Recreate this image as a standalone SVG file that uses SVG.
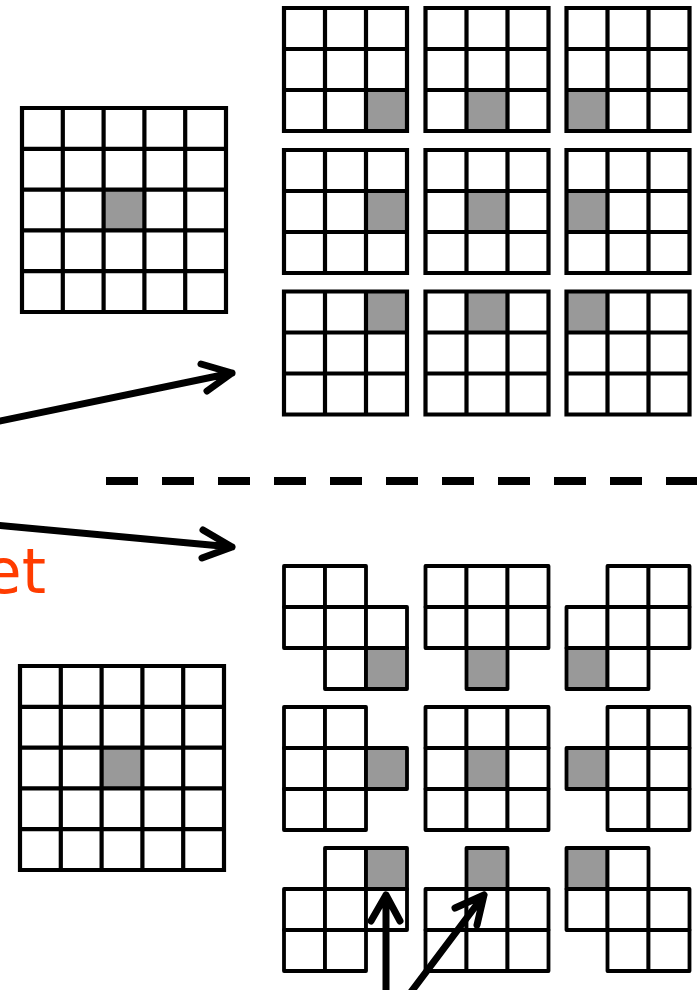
<svg xmlns="http://www.w3.org/2000/svg" xmlns:xlink="http://www.w3.org/1999/xlink" width="697" height="990" viewBox="0 0 697 990">
<style>
.gl{fill:none;stroke:#000;stroke-width:4.2}
.gray{fill:#999}
.w{fill:#fff;stroke:#000;stroke-width:3.8;stroke-linejoin:round}
.k{fill:#999;stroke:#000;stroke-width:3.8;stroke-linejoin:round}
.arr{fill:none;stroke:#000;stroke-width:7;stroke-linecap:round;stroke-linejoin:round}
.lbl{font-family:"DejaVu Sans",Verdana,sans-serif;font-size:62px;fill:#FF3C00}
</style>
<defs>
<path id="grid5" d="M0,0H204V204H0Z M40.8,0V204 M81.6,0V204 M122.4,0V204 M163.2,0V204 M0,40.8H204 M0,81.6H204 M0,122.4H204 M0,163.2H204"/>
<path id="grid3" d="M0,0H123V123H0Z M41,0V123 M82,0V123 M0,41H123 M0,82H123"/>
<rect id="cell" width="41" height="41"/>
</defs>
<rect width="697" height="990" fill="#fff"/>

<g id="big-top">
<rect class="gray" x="103.6" y="189.6" width="40.8" height="40.8"/>
<use href="#grid5" class="gl" x="22" y="108"/>
</g>
<g id="big-bottom">
<rect class="gray" x="101.6" y="747.6" width="40.8" height="40.8"/>
<use href="#grid5" class="gl" x="20" y="666"/>
</g>

<g id="top-windows">
<g id="tw1"><rect class="gray" x="366" y="90" width="41" height="41"/><use href="#grid3" class="gl" x="284" y="8"/></g>
<g id="tw2"><rect class="gray" x="466.5" y="90" width="41" height="41"/><use href="#grid3" class="gl" x="425.5" y="8"/></g>
<g id="tw3"><rect class="gray" x="566.5" y="90" width="41" height="41"/><use href="#grid3" class="gl" x="566.5" y="8"/></g>
<g id="tw4"><rect class="gray" x="366" y="191" width="41" height="41"/><use href="#grid3" class="gl" x="284" y="150"/></g>
<g id="tw5"><rect class="gray" x="466.5" y="191" width="41" height="41"/><use href="#grid3" class="gl" x="425.5" y="150"/></g>
<g id="tw6"><rect class="gray" x="566.5" y="191" width="41" height="41"/><use href="#grid3" class="gl" x="566.5" y="150"/></g>
<g id="tw7"><rect class="gray" x="366" y="291.5" width="41" height="41"/><use href="#grid3" class="gl" x="284" y="291.5"/></g>
<g id="tw8"><rect class="gray" x="466.5" y="291.5" width="41" height="41"/><use href="#grid3" class="gl" x="425.5" y="291.5"/></g>
<g id="tw9"><rect class="gray" x="566.5" y="291.5" width="41" height="41"/><use href="#grid3" class="gl" x="566.5" y="291.5"/></g>
</g>

<g id="bottom-shapes">
<g id="bs1">
<use href="#cell" class="w" x="284" y="566"/><use href="#cell" class="w" x="325" y="566"/>
<use href="#cell" class="w" x="284" y="607"/><use href="#cell" class="w" x="325" y="607"/><use href="#cell" class="w" x="366" y="607"/>
<use href="#cell" class="w" x="325" y="648"/><use href="#cell" class="k" x="366" y="648"/>
</g>
<g id="bs2">
<use href="#cell" class="w" x="425.5" y="566"/><use href="#cell" class="w" x="466.5" y="566"/><use href="#cell" class="w" x="507.5" y="566"/>
<use href="#cell" class="w" x="425.5" y="607"/><use href="#cell" class="w" x="466.5" y="607"/><use href="#cell" class="w" x="507.5" y="607"/>
<use href="#cell" class="k" x="466.5" y="648"/>
</g>
<g id="bs3">
<use href="#cell" class="w" x="607.5" y="566"/><use href="#cell" class="w" x="648.5" y="566"/>
<use href="#cell" class="w" x="566.5" y="607"/><use href="#cell" class="w" x="607.5" y="607"/><use href="#cell" class="w" x="648.5" y="607"/>
<use href="#cell" class="k" x="566.5" y="648"/><use href="#cell" class="w" x="607.5" y="648"/>
</g>
<g id="bs4">
<use href="#cell" class="w" x="284" y="707"/><use href="#cell" class="w" x="325" y="707"/>
<use href="#cell" class="w" x="284" y="748"/><use href="#cell" class="w" x="325" y="748"/><use href="#cell" class="k" x="366" y="748"/>
<use href="#cell" class="w" x="284" y="789"/><use href="#cell" class="w" x="325" y="789"/>
</g>
<g id="bs5">
<use href="#cell" class="w" x="425.5" y="707"/><use href="#cell" class="w" x="466.5" y="707"/><use href="#cell" class="w" x="507.5" y="707"/>
<use href="#cell" class="w" x="425.5" y="748"/><use href="#cell" class="k" x="466.5" y="748"/><use href="#cell" class="w" x="507.5" y="748"/>
<use href="#cell" class="w" x="425.5" y="789"/><use href="#cell" class="w" x="466.5" y="789"/><use href="#cell" class="w" x="507.5" y="789"/>
</g>
<g id="bs6">
<use href="#cell" class="w" x="607.5" y="707"/><use href="#cell" class="w" x="648.5" y="707"/>
<use href="#cell" class="k" x="566.5" y="748"/><use href="#cell" class="w" x="607.5" y="748"/><use href="#cell" class="w" x="648.5" y="748"/>
<use href="#cell" class="w" x="607.5" y="789"/><use href="#cell" class="w" x="648.5" y="789"/>
</g>
<g id="bs7">
<use href="#cell" class="w" x="325" y="848"/><use href="#cell" class="k" x="366" y="848"/>
<use href="#cell" class="w" x="284" y="889"/><use href="#cell" class="w" x="325" y="889"/><use href="#cell" class="w" x="366" y="889"/>
<use href="#cell" class="w" x="284" y="930"/><use href="#cell" class="w" x="325" y="930"/>
</g>
<g id="bs8">
<use href="#cell" class="k" x="466.5" y="848"/>
<use href="#cell" class="w" x="425.5" y="889"/><use href="#cell" class="w" x="466.5" y="889"/><use href="#cell" class="w" x="507.5" y="889"/>
<use href="#cell" class="w" x="425.5" y="930"/><use href="#cell" class="w" x="466.5" y="930"/><use href="#cell" class="w" x="507.5" y="930"/>
</g>
<g id="bs9">
<use href="#cell" class="k" x="566.5" y="848"/><use href="#cell" class="w" x="607.5" y="848"/>
<use href="#cell" class="w" x="566.5" y="889"/><use href="#cell" class="w" x="607.5" y="889"/><use href="#cell" class="w" x="648.5" y="889"/>
<use href="#cell" class="w" x="607.5" y="930"/><use href="#cell" class="w" x="648.5" y="930"/>
</g>
</g>

<g id="divider">
<line x1="106" y1="481" x2="697" y2="481" stroke="#000" stroke-width="8" stroke-dasharray="32 24"/>
</g>

<g id="label">
<text class="lbl" x="46" y="593" text-anchor="end">et</text>
</g>

<g id="connectors">
<path class="arr" d="M-5,422 L232,373 M201,364 L232,373 L207,391"/>
<path class="arr" d="M-5,525 L232,547 M203,530 L232,547 L202,558"/>
<path class="arr" d="M386,1000 L386,895 M371,921 L386,895 L400,921"/>
<path class="arr" d="M405,1000 L484,895 M455,908 L484,895 L477,925"/>
</g>
</svg>
